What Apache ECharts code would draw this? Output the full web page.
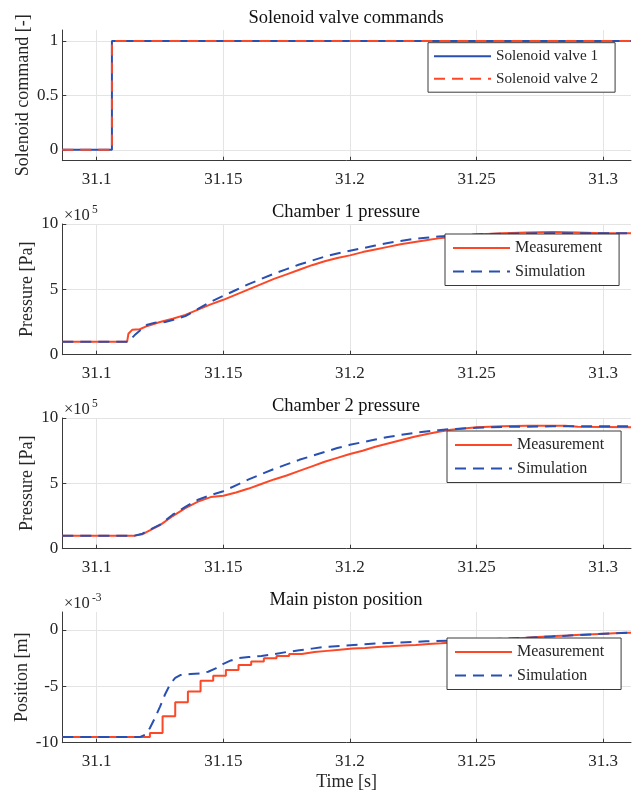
<!DOCTYPE html>
<html>
<head>
<meta charset="utf-8">
<script src="https://cdn.jsdelivr.net/npm/echarts@6/dist/echarts.min.js"></script>
<style>html,body{margin:0;padding:0;background:#fff}#c{width:637px;height:793px}</style>
</head>
<body>
<div id="c"></div>
<script>
// ---------- data ----------
const timeTicks = [31.1, 31.15, 31.2, 31.25, 31.3];
const timeRange = [31.0864, 31.311];

const titles = ['Solenoid valve commands', 'Chamber 1 pressure', 'Chamber 2 pressure', 'Main piston position'];
const yNames = ['Solenoid command [-]', 'Pressure [Pa]', 'Pressure [Pa]', 'Position [m]'];

const cmdTicks = [0, 0.5, 1];
const pressureTicks = [0, 5, 10];
const positionTicks = [-10, -5, 0];

const valveTimes = [31.0864, 31.106, 31.106, 31.311];
const valve1Cmd = [0, 0, 1, 1];
const valve2Cmd = [0, 0, 1, 1];

// Chamber 1 pressure (x1e5 Pa)
const p1MeasTimes = [31.0864, 31.112, 31.1125, 31.114, 31.117, 31.12, 31.125, 31.13, 31.135, 31.14, 31.145, 31.15, 31.155, 31.16, 31.165, 31.17, 31.175, 31.18, 31.185, 31.19, 31.195, 31.2, 31.205, 31.21, 31.215, 31.22, 31.225, 31.23, 31.235, 31.24, 31.245, 31.25, 31.26, 31.27, 31.28, 31.29, 31.3, 31.311];
const p1MeasVals = [1.0, 1.0, 1.6, 1.9, 1.95, 2.2, 2.5, 2.75, 3.05, 3.45, 3.85, 4.2, 4.6, 5.0, 5.4, 5.8, 6.15, 6.5, 6.85, 7.15, 7.4, 7.6, 7.85, 8.05, 8.25, 8.45, 8.6, 8.75, 8.9, 9.0, 9.1, 9.2, 9.3, 9.35, 9.38, 9.35, 9.3, 9.3];
const p1SimTimes = [31.0864, 31.1125, 31.115, 31.118, 31.12, 31.123, 31.127, 31.13, 31.135, 31.14, 31.145, 31.15, 31.155, 31.16, 31.165, 31.17, 31.175, 31.18, 31.185, 31.19, 31.195, 31.2, 31.205, 31.21, 31.215, 31.22, 31.225, 31.23, 31.235, 31.24, 31.25, 31.26, 31.28, 31.311];
const p1SimVals = [1.0, 1.0, 1.5, 2.0, 2.3, 2.45, 2.5, 2.65, 2.95, 3.5, 4.05, 4.5, 4.95, 5.4, 5.8, 6.2, 6.55, 6.9, 7.2, 7.5, 7.75, 7.95, 8.15, 8.35, 8.55, 8.7, 8.85, 8.95, 9.05, 9.1, 9.2, 9.25, 9.3, 9.3];

// Chamber 2 pressure (x1e5 Pa)
const p2MeasTimes = [31.0864, 31.115, 31.118, 31.12, 31.125, 31.13, 31.135, 31.14, 31.145, 31.15, 31.155, 31.16, 31.165, 31.17, 31.175, 31.18, 31.185, 31.19, 31.195, 31.2, 31.205, 31.21, 31.215, 31.22, 31.225, 31.23, 31.235, 31.24, 31.245, 31.25, 31.26, 31.27, 31.285, 31.29, 31.311];
const p2MeasVals = [1.0, 1.0, 1.1, 1.3, 1.8, 2.5, 3.1, 3.6, 3.95, 4.05, 4.3, 4.6, 4.95, 5.3, 5.6, 5.95, 6.3, 6.65, 6.95, 7.25, 7.5, 7.8, 8.05, 8.3, 8.55, 8.75, 8.95, 9.1, 9.2, 9.3, 9.37, 9.4, 9.4, 9.33, 9.3];
const p2SimTimes = [31.0864, 31.115, 31.118, 31.12, 31.125, 31.13, 31.135, 31.14, 31.145, 31.15, 31.155, 31.16, 31.165, 31.17, 31.175, 31.18, 31.185, 31.19, 31.195, 31.2, 31.205, 31.21, 31.215, 31.22, 31.225, 31.23, 31.235, 31.24, 31.25, 31.26, 31.28, 31.311];
const p2SimVals = [1.0, 1.0, 1.15, 1.35, 1.85, 2.6, 3.2, 3.75, 4.1, 4.4, 4.85, 5.3, 5.7, 6.1, 6.45, 6.8, 7.1, 7.4, 7.7, 7.95, 8.15, 8.35, 8.55, 8.7, 8.85, 8.97, 9.07, 9.15, 9.25, 9.32, 9.36, 9.36];

// Main piston position (x1e-3 m); measurement is sampled (held between samples)
const posMeasTimes = [31.0864, 31.121, 31.126, 31.131, 31.136, 31.141, 31.146, 31.151, 31.156, 31.161, 31.166, 31.171, 31.176, 31.181, 31.186, 31.191, 31.196, 31.201, 31.206, 31.211, 31.216, 31.221, 31.226, 31.231, 31.236, 31.241, 31.246, 31.251, 31.256, 31.261, 31.266, 31.271, 31.276, 31.281, 31.286, 31.291, 31.296, 31.301, 31.306, 31.311];
const posMeasVals = [-9.5, -9.15, -7.65, -6.4, -5.45, -4.5, -4.05, -3.55, -3.1, -2.8, -2.5, -2.3, -2.12, -1.95, -1.85, -1.75, -1.65, -1.6, -1.5, -1.45, -1.38, -1.32, -1.25, -1.18, -1.1, -1.03, -0.97, -0.9, -0.82, -0.75, -0.66, -0.59, -0.53, -0.48, -0.42, -0.37, -0.32, -0.27, -0.24, -0.22];
const posSimTimes = [31.0864, 31.117, 31.119, 31.121, 31.123, 31.125, 31.127, 31.129, 31.131, 31.133, 31.137, 31.141, 31.144, 31.147, 31.15, 31.153, 31.156, 31.16, 31.165, 31.17, 31.175, 31.18, 31.185, 31.19, 31.2, 31.21, 31.22, 31.23, 31.24, 31.25, 31.26, 31.27, 31.28, 31.29, 31.3, 31.311];
const posSimVals = [-9.5, -9.5, -9.3, -8.7, -7.8, -6.8, -5.7, -4.8, -4.25, -4.0, -3.9, -3.85, -3.7, -3.4, -3.0, -2.7, -2.5, -2.4, -2.3, -2.15, -1.95, -1.8, -1.65, -1.5, -1.35, -1.2, -1.1, -1.0, -0.95, -0.87, -0.78, -0.68, -0.57, -0.45, -0.33, -0.22];

// ---------- styling / layout ----------
const FONT = 'Liberation Serif';
const RED = '#fc4826';
const BLUE = '#284fb2';
const AXIS = '#3a3a3a';
const TXT = '#262626';
const GRID = '#e4e4e4';
const gridTops = [30, 224, 418, 612];
const gridH = 130.7;
const gridLeft = 62.3;
const gridRight = 6;
const titleCenterX = 341;

const yRanges = [[-0.1, 1.1], [0, 10], [0, 10], [-10, 1.6]];
const yTicks = [cmdTicks, pressureTicks, pressureTicks, positionTicks];
const yNameGaps = [30, 26, 26, 31];

const pair = (ts, vs) => ts.map((t, i) => [t, vs[i]]);

const chart = echarts.init(document.getElementById('c'), null, { renderer: 'canvas' });

const xAxes = [0, 1, 2, 3].map(i => ({
  type: 'value', gridIndex: i, min: timeRange[0], max: timeRange[1],
  axisLine: { show: true, onZero: false, lineStyle: { color: AXIS, width: 1 } },
  axisTick: { show: true, inside: true, length: 4, customValues: timeTicks, lineStyle: { color: AXIS } },
  axisLabel: { customValues: timeTicks, margin: 10, fontSize: 17, color: TXT, fontFamily: FONT, formatter: v => String(v) },
  splitLine: { show: true, lineStyle: { color: GRID, width: 1 } },
  name: i === 3 ? 'Time [s]' : '', nameLocation: 'middle', nameGap: 31, nameMoveOverlap: false,
  nameTextStyle: { fontSize: 18, color: TXT, fontFamily: FONT }
}));

const yAxes = [0, 1, 2, 3].map(i => ({
  type: 'value', gridIndex: i, min: yRanges[i][0], max: yRanges[i][1],
  axisLine: { show: true, onZero: false, lineStyle: { color: AXIS, width: 1 } },
  axisTick: { show: true, inside: true, length: 4, customValues: yTicks[i], lineStyle: { color: AXIS } },
  axisLabel: { customValues: yTicks[i], margin: 4, fontSize: 17, color: TXT, fontFamily: FONT, formatter: v => String(v) },
  splitLine: { show: true, lineStyle: { color: GRID, width: 1 } },
  name: yNames[i], nameLocation: 'middle', nameGap: yNameGaps[i], nameRotate: 90, nameMoveOverlap: false,
  nameTextStyle: { fontSize: 18, color: TXT, fontFamily: FONT }
}));

function lineSeries(name, idx, data, color, dashed, step) {
  return {
    type: 'line', name, xAxisIndex: idx, yAxisIndex: idx, data,
    showSymbol: false, symbol: 'none', step: step || false,
    lineStyle: { color, width: 2, type: dashed ? [11, 7] : 'solid' },
    itemStyle: { color },
    emphasis: { disabled: true }, silent: true
  };
}

const series = [
  lineSeries('Solenoid valve 1', 0, pair(valveTimes, valve1Cmd), BLUE, false),
  lineSeries('Solenoid valve 2', 0, pair(valveTimes, valve2Cmd), RED, true),
  lineSeries('Measurement', 1, pair(p1MeasTimes, p1MeasVals), RED, false),
  lineSeries('Simulation', 1, pair(p1SimTimes, p1SimVals), BLUE, true),
  lineSeries('Measurement', 2, pair(p2MeasTimes, p2MeasVals), RED, false),
  lineSeries('Simulation', 2, pair(p2SimTimes, p2SimVals), BLUE, true),
  lineSeries('Measurement', 3, pair(posMeasTimes, posMeasVals), RED, false, 'end'),
  lineSeries('Simulation', 3, pair(posSimTimes, posSimVals), BLUE, true)
];

const legendPos = [
  { left: 428, top: 42.7, padding: [6, 17, 6, 5], font: 15.2, data: ['Solenoid valve 1', 'Solenoid valve 2'] },
  { left: 445, top: 234, padding: [6, 17, 6, 7], font: 16, data: ['Measurement', 'Simulation'] },
  { left: 447, top: 431, padding: [6, 17, 6, 7], font: 16, data: ['Measurement', 'Simulation'] },
  { left: 447, top: 638, padding: [6, 17, 6, 7], font: 16, data: ['Measurement', 'Simulation'] }
];
const legends = legendPos.map((l, i) => ({
  orient: 'vertical', left: l.left, top: l.top, padding: l.padding,
  itemWidth: 57, itemHeight: 14, itemGap: 7.5,
  selectedMode: false,
  backgroundColor: '#fff', borderColor: AXIS, borderWidth: 1,
  itemStyle: { opacity: 0 },
  lineStyle: { width: 2 },
  textStyle: { fontSize: l.font, color: TXT, fontFamily: FONT },
  data: l.data.map(n => ({ name: n })),
  seriesIndex: [i * 2, i * 2 + 1]
}));

const titleComps = titles.map((t, i) => ({
  text: t, left: titleCenterX, top: gridTops[i] - 26, textAlign: 'center',
  textStyle: { fontSize: 18.5, fontWeight: 'normal', color: '#111', fontFamily: FONT }
}));

function expLabel(top, sup) {
  return [
    { type: 'text', x: 64, y: top, style: { text: '×10', fontSize: 16.5, fontFamily: FONT, fill: TXT, align: 'left', verticalAlign: 'middle' } },
    { type: 'text', x: 92, y: top - 6, style: { text: sup, fontSize: 11.5, fontFamily: FONT, fill: TXT, align: 'left', verticalAlign: 'middle' } }
  ];
}

chart.setOption({
  animation: false,
  backgroundColor: '#fff',
  textStyle: { fontFamily: FONT },
  title: titleComps,
  grid: gridTops.map(t => ({ left: gridLeft, right: gridRight, top: t, height: gridH })),
  xAxis: xAxes,
  yAxis: yAxes,
  legend: legends,
  graphic: [].concat(expLabel(gridTops[1] - 8.5, '5'), expLabel(gridTops[2] - 8.5, '5'), expLabel(gridTops[3] - 8.5, '-3')),
  series
});
</script>
</body>
</html>
